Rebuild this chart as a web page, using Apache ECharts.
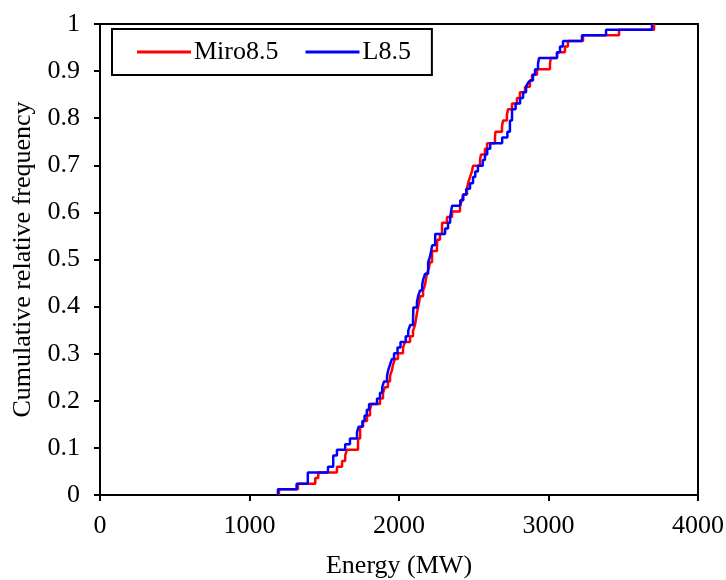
<!DOCTYPE html>
<html>
<head>
<meta charset="utf-8">
<script src="https://cdn.jsdelivr.net/npm/echarts@6/dist/echarts.min.js"></script>
<style>
  html, body { margin: 0; padding: 0; background: #fff; }
  #chart { width: 726px; height: 580px; }
</style>
</head>
<body>
<div id="chart"></div>
<script>
  // cumulative step points, energy (MW) where each step happens and the level after it
  var miroEnergy = [1197, 1197, 1324, 1440, 1460, 1585, 1619, 1640, 1652, 1726, 1740, 1760, 1786, 1806, 1815,
    1873, 1893, 1906, 1926, 1940, 1953, 1960, 1973, 1993, 2027, 2040, 2074, 2094, 2107, 2120, 2127, 2135,
    2140, 2161, 2174, 2180, 2187, 2200, 2207, 2221, 2254, 2256, 2274, 2288, 2321, 2355, 2408, 2421, 2428,
    2455, 2462, 2475, 2488, 2495, 2542, 2548, 2575, 2589, 2642, 2645, 2689, 2696, 2722, 2729, 2756, 2789,
    2809, 2843, 2876, 2890, 2923, 3010, 3015, 3057, 3110, 3130, 3231, 3472, 3706];
  var miroFreq = [0, 0.012, 0.024, 0.036, 0.048, 0.060, 0.072, 0.084, 0.096, 0.120, 0.145, 0.157, 0.169, 0.181, 0.193,
    0.205, 0.217, 0.229, 0.241, 0.253, 0.265, 0.277, 0.289, 0.301, 0.313, 0.325, 0.337, 0.349, 0.361, 0.386, 0.398, 0.410,
    0.422, 0.434, 0.446, 0.458, 0.470, 0.482, 0.494, 0.518, 0.530, 0.542, 0.554, 0.578, 0.590, 0.602, 0.614, 0.626, 0.638,
    0.650, 0.662, 0.675, 0.687, 0.699, 0.711, 0.723, 0.735, 0.747, 0.759, 0.771, 0.783, 0.795, 0.807, 0.819, 0.831, 0.843,
    0.855, 0.867, 0.880, 0.892, 0.904, 0.916, 0.928, 0.940, 0.952, 0.964, 0.976, 0.988, 1.0];

  var lEnergy = [1190, 1190, 1315, 1390, 1525, 1560, 1585, 1640, 1672, 1719, 1730, 1755, 1770, 1785, 1800,
    1853, 1873, 1888, 1900, 1920, 1928, 1940, 1953, 1967, 1990, 2010, 2045, 2062, 2075, 2094, 2096, 2120,
    2128, 2140, 2155, 2162, 2175, 2195, 2207, 2215, 2222, 2242, 2308, 2328, 2342, 2355, 2410, 2430, 2450,
    2475, 2495, 2510, 2528, 2560, 2575, 2590, 2610, 2690, 2725, 2742, 2756, 2780, 2810, 2830, 2850, 2863,
    2876, 2896, 2910, 2930, 2937, 3057, 3077, 3097, 3224, 3385, 3692];
  var lFreq = [0, 0.012, 0.024, 0.048, 0.060, 0.084, 0.096, 0.108, 0.120, 0.133, 0.145, 0.157, 0.169, 0.181, 0.193,
    0.205, 0.217, 0.229, 0.241, 0.253, 0.265, 0.277, 0.289, 0.301, 0.313, 0.325, 0.337, 0.349, 0.361, 0.373, 0.398, 0.410,
    0.422, 0.434, 0.446, 0.458, 0.470, 0.494, 0.506, 0.518, 0.530, 0.554, 0.566, 0.578, 0.590, 0.614, 0.626, 0.638, 0.650,
    0.662, 0.675, 0.687, 0.699, 0.711, 0.723, 0.735, 0.747, 0.759, 0.771, 0.795, 0.819, 0.831, 0.843, 0.855, 0.867, 0.875,
    0.880, 0.892, 0.904, 0.916, 0.928, 0.940, 0.952, 0.964, 0.976, 0.988, 1.0];

  var seriesNames = ['Miro8.5', 'L8.5'];

  function pairs(xs, ys) {
    return xs.map(function (x, i) { return [x, ys[i]]; });
  }

  var font = 'Liberation Serif';
  var chart = echarts.init(document.getElementById('chart'));

  chart.setOption({
    animation: false,
    textStyle: {fontFamily: font, color: '#000'},
    grid: {
      left: 100,
      right: 28,
      top: 24,
      bottom: 85,
      outerBoundsMode: 'none',
      containLabel: false,
      show: true,
      borderColor: '#000',
      borderWidth: 2
    },
    legend: {
      left: 112,
      top: 29,
      padding: [10, 21, 10, 25],
      itemGap: 27,
      itemWidth: 54,
      itemHeight: 3,
      icon: 'rect',
      borderColor: '#000',
      borderWidth: 2,
      backgroundColor: '#fff',
      textStyle: {fontFamily: font, fontSize: 26, color: '#000', padding: [0, 0, 0, -2]},
      data: seriesNames
    },
    xAxis: {
      type: 'value',
      min: 0,
      max: 4000,
      interval: 1000,
      name: 'Energy (MW)',
      nameLocation: 'middle',
      nameGap: 58,
      nameTextStyle: {fontFamily: font, fontSize: 26, color: '#000'},
      axisLine: {lineStyle: {color: '#000', width: 2}},
      axisTick: {show: true, inside: false, length: 6, lineStyle: {color: '#000', width: 2}},
      axisLabel: {
        fontFamily: font, fontSize: 26, color: '#000', margin: 18,
        formatter: function (v) { return String(v); }
      },
      splitLine: {show: false}
    },
    yAxis: {
      type: 'value',
      min: 0,
      max: 1,
      interval: 0.1,
      name: 'Cumulative relative frequency',
      nameLocation: 'middle',
      nameGap: 62,
      nameTextStyle: {fontFamily: font, fontSize: 26, color: '#000'},
      axisLine: {show: true, lineStyle: {color: '#000', width: 2}},
      axisTick: {show: true, inside: false, length: 6, lineStyle: {color: '#000', width: 2}},
      axisLabel: {fontFamily: font, fontSize: 26, color: '#000', margin: 20},
      splitLine: {show: false}
    },
    series: [
      {
        name: seriesNames[0],
        type: 'line',
        step: 'end',
        symbol: 'none',
        data: pairs(miroEnergy, miroFreq),
        lineStyle: {color: '#ff0000', width: 2.5},
        itemStyle: {color: '#ff0000'}
      },
      {
        name: seriesNames[1],
        type: 'line',
        step: 'end',
        symbol: 'none',
        data: pairs(lEnergy, lFreq),
        lineStyle: {color: '#0000ff', width: 2.5},
        itemStyle: {color: '#0000ff'}
      }
    ]
  });
</script>
</body>
</html>
